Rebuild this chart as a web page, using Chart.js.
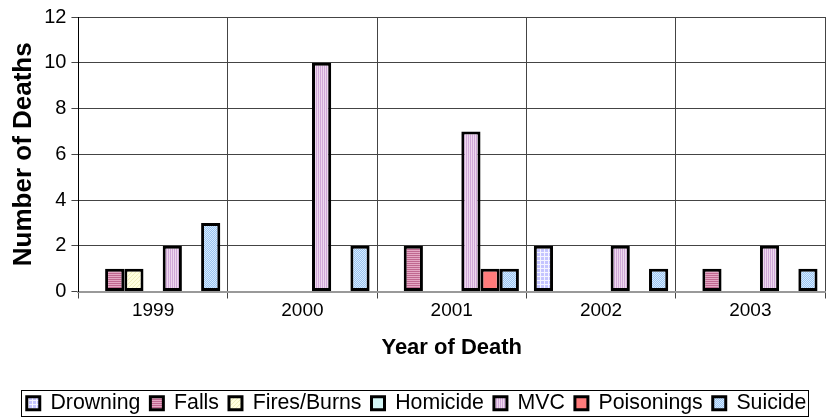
<!DOCTYPE html>
<html>
<head>
<meta charset="utf-8">
<script src="https://cdn.jsdelivr.net/npm/chart.js@4.4.1/dist/chart.umd.min.js"></script>
<style>
  html, body { margin: 0; padding: 0; background: #fff; }
  #wrap { width: 827px; height: 419px; }
</style>
</head>
<body>
<div id="wrap"><canvas id="myChart" width="827" height="419"></canvas></div>
<script>
const years = ['1999', '2000', '2001', '2002', '2003'];
const drowning   = [0, 0, 0, 2, 0];
const falls      = [1, 0, 2, 0, 1];
const firesBurns = [1, 0, 0, 0, 0];
const homicide   = [0, 0, 0, 0, 0];
const mvc        = [2, 10, 7, 2, 2];
const poisonings = [0, 0, 1, 0, 0];
const suicide    = [3, 2, 1, 1, 1];
const yTicks = [0, 2, 4, 6, 8, 10, 12];

// little tile patterns, like the old Excel fills
function pattern(bg, fg, kind) {
  const c = document.createElement('canvas');
  c.width = 4; c.height = 4;
  const g = c.getContext('2d');
  g.fillStyle = bg;
  g.fillRect(0, 0, 4, 4);
  g.fillStyle = fg;
  if (kind === 'h') { g.fillRect(0, 0, 4, 1); g.fillRect(0, 2, 4, 1); }
  if (kind === 'v') { g.fillRect(0, 0, 1, 4); g.fillRect(2, 0, 1, 4); }
  if (kind === 'grid') { g.fillRect(0, 0, 4, 1); g.fillRect(0, 0, 1, 4); }
  if (kind === 'check') { g.fillRect(0, 0, 1, 1); g.fillRect(2, 0, 1, 1); g.fillRect(1, 1, 1, 1); g.fillRect(3, 1, 1, 1);
                          g.fillRect(0, 2, 1, 1); g.fillRect(2, 2, 1, 1); g.fillRect(1, 3, 1, 1); g.fillRect(3, 3, 1, 1); }
  if (kind === 'diag') { for (let i = 0; i < 4; i++) g.fillRect(3 - i, i, 1, 1); }
  return g.createPattern(c, 'repeat');
}

const fills = {
  drowning:   pattern('#c4c4ff', '#f4f4ff', 'grid'),
  falls:      pattern('#c06890', '#e4a8c4', 'h'),
  firesBurns: pattern('#ffffe0', '#eeeebb', 'diag'),
  homicide:   '#d4f6f6',
  mvc:        pattern('#eed8ee', '#d0a8d8', 'v'),
  poisonings: '#ff7c7c',
  suicide:    pattern('#98c4f0', '#d8eaff', 'check')
};

function ds(label, data, fill) {
  return {
    label: label,
    data: data,
    backgroundColor: fill,
    borderColor: '#000',
    borderWidth: 3,
    borderSkipped: false,
    barPercentage: 1,
    categoryPercentage: 0.9
  };
}

// frame around the legend
const legendBox = {
  id: 'legendBox',
  afterDraw(chart) {
    const boxes = chart.legend.legendHitBoxes;
    if (!boxes || !boxes.length) return;
    const first = boxes[0], last = boxes[boxes.length - 1];
    const ctx = chart.ctx;
    ctx.save();
    ctx.strokeStyle = '#000';
    ctx.lineWidth = 1;
    ctx.strokeRect(Math.round(first.left) - 5.5, Math.round(first.top) - 2.5, Math.round(last.left + last.width - first.left) + 8, Math.round(first.height) + 5);
    ctx.restore();
  }
};

Chart.defaults.font.family = '"Liberation Sans", Arial, sans-serif';
Chart.defaults.color = '#000';

new Chart('myChart', {
  type: 'bar',
  data: {
    labels: years,
    datasets: [
      ds('Drowning', drowning, fills.drowning),
      ds('Falls', falls, fills.falls),
      ds('Fires/Burns', firesBurns, fills.firesBurns),
      ds('Homicide', homicide, fills.homicide),
      ds('MVC', mvc, fills.mvc),
      ds('Poisonings', poisonings, fills.poisonings),
      ds('Suicide', suicide, fills.suicide)
    ]
  },
  options: {
    responsive: false,
    animation: false,
    layout: { padding: { top: 9, right: 2, left: 8, bottom: -5 } },
    plugins: {
      legend: {
        position: 'bottom',
        labels: {
          boxWidth: 13,
          boxHeight: 13,
          padding: 10,
          font: { size: 21.3 }
        }
      },
      tooltip: { enabled: false }
    },
    scales: {
      x: {
        grid: { offset: true, color: '#444', lineWidth: 1, tickLength: 7 },
        border: { color: '#999', width: 2 },
        ticks: { font: { size: 19 }, padding: 1 },
        title: { display: true, text: 'Year of Death', font: { size: 22, weight: 'bold' }, padding: { top: 11, bottom: 22 } }
      },
      y: {
        min: 0,
        max: 12,
        afterBuildTicks(axis) { axis.ticks = yTicks.map(v => ({ value: v })); },
        grid: { color: '#444', lineWidth: 1, tickLength: 7 },
        border: { color: '#000', width: 1 },
        ticks: { font: { size: 20 }, padding: 5 },
        title: { display: true, text: 'Number of Deaths', font: { size: 26, weight: 'bold' }, padding: { top: 0, bottom: 0 } }
      }
    }
  },
  plugins: [legendBox]
});
</script>
</body>
</html>
